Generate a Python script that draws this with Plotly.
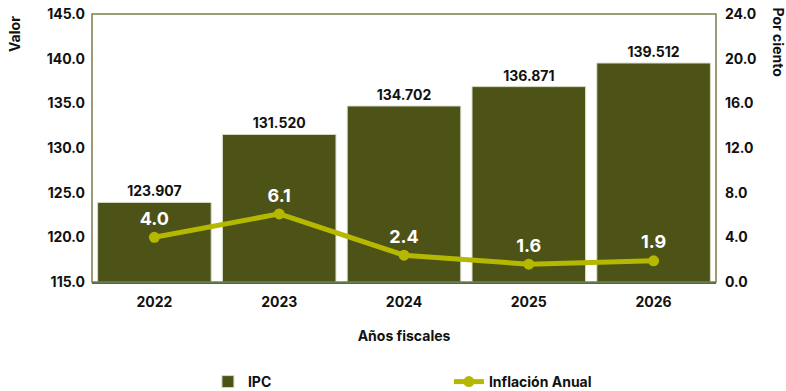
import plotly.graph_objects as go

years = ["2022", "2023", "2024", "2025", "2026"]
ipc = [123.907, 131.520, 134.702, 136.871, 139.512]
inflacion = [4.0, 6.1, 2.4, 1.6, 1.9]

bar_color = "#4d5216"
line_color = "#b5b800"
font_family = "Inter, 'Open Sans', sans-serif"

fig = go.Figure()
fig.add_trace(go.Bar(
    x=years, y=ipc, name="IPC",
    marker=dict(color=bar_color, line=dict(color="#d9dcc8", width=1)),
    text=[f"{v:.3f}" for v in ipc], textposition="outside",
    textfont=dict(color="#111111", size=14, family=font_family, weight="bold"),
    cliponaxis=False,
))
fig.add_trace(go.Scatter(
    x=years, y=inflacion, name="Inflación Anual", yaxis="y2",
    mode="lines+markers+text",
    line=dict(color=line_color, width=5),
    marker=dict(color=line_color, size=11),
    text=[f"{v:.1f}" for v in inflacion], textposition="top center",
    textfont=dict(color="white", size=18, family=font_family, weight="bold"),
))

tickfont = dict(color="#111111", size=14, family=font_family, weight="bold")
fig.update_layout(
    width=786, height=391,
    margin=dict(l=92, r=70, t=14, b=109),
    paper_bgcolor="white", plot_bgcolor="white",
    bargap=0.09,
    showlegend=True,
    legend=dict(orientation="h", xref="paper", x=0.572, xanchor="center",
                yref="container", y=0.023, yanchor="middle",
                font=dict(color="#111111", size=14, family=font_family, weight="bold"),
                entrywidth=196, itemwidth=30, tracegroupgap=0,
                bgcolor="rgba(0,0,0,0)"),
    xaxis=dict(showgrid=False, tickfont=tickfont, ticks="", showline=True,
               linecolor="#1f7a68", linewidth=2, ticklabelstandoff=6,
               automargin=False,
               title=dict(text="Años fiscales", font=tickfont, standoff=22)),
    yaxis=dict(range=[115, 145], dtick=5, tickformat=".1f", showgrid=False,
               tickfont=tickfont, zeroline=False, ticks="", ticklabelstandoff=6,
               automargin=False),
    yaxis2=dict(range=[0, 24], dtick=4, tickformat=".1f", showgrid=False,
                overlaying="y", side="right", tickfont=tickfont, zeroline=False,
                ticks="", ticklabelstandoff=8, automargin=False),
    shapes=[dict(type="rect", xref="paper", yref="paper", x0=0, x1=1, y0=0, y1=1,
                 line=dict(color="#7b7d4a", width=1.5), layer="above")],
    annotations=[
        dict(text="Valor", xref="paper", yref="paper", x=-0.125, y=1.0,
             xanchor="center", yanchor="top", textangle=-90, showarrow=False,
             font=tickfont),
        dict(text="Por ciento", xref="paper", yref="paper", x=1.1, y=1.03,
             xanchor="center", yanchor="top", textangle=90, showarrow=False,
             font=tickfont),
    ],
)

fig.write_html("out.html")
